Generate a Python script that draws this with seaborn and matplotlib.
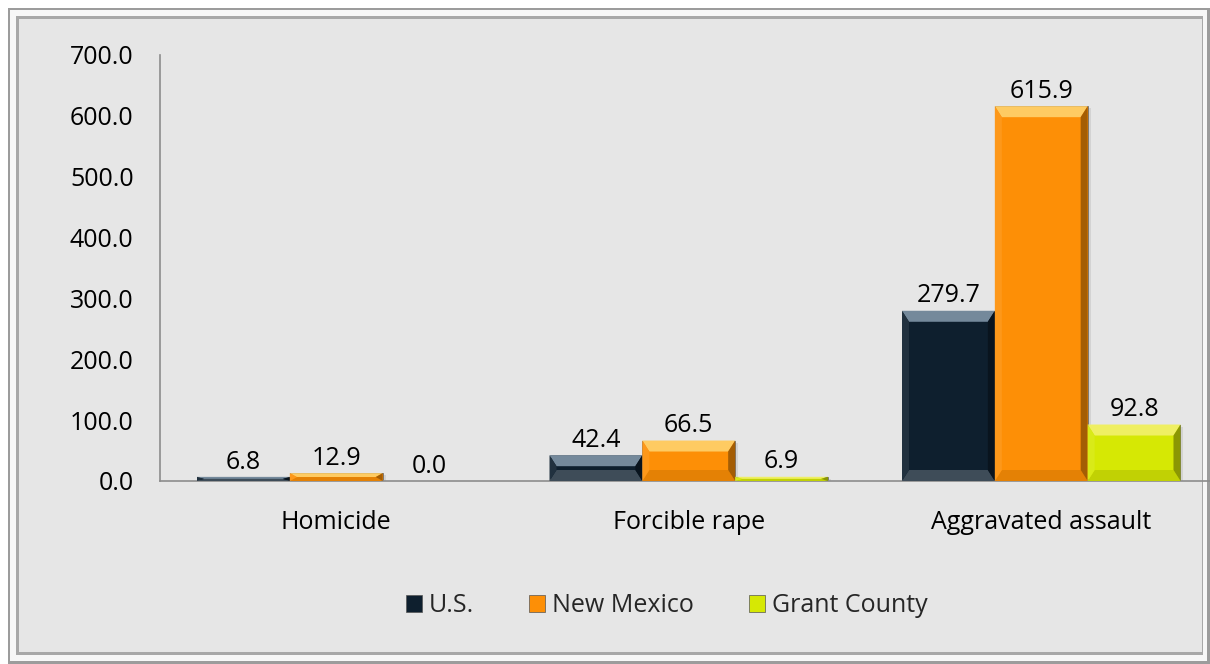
import matplotlib
matplotlib.use("Agg")
import matplotlib.pyplot as plt
from matplotlib.patches import Rectangle, Polygon
from matplotlib.colors import to_rgb
import numpy as np
import pandas as pd
import seaborn as sns

# Violent crime rates per 100,000 population
crimes = ["Homicide", "Forcible rape", "Aggravated assault"]
areas = ["U.S.", "New Mexico", "Grant County"]
us_rates = [6.8, 42.4, 279.7]
nm_rates = [12.9, 66.5, 615.9]
grant_rates = [0.0, 6.9, 92.8]
y_ticks = [0, 100, 200, 300, 400, 500, 600, 700]

colors = {"U.S.": "#0e1f2e", "New Mexico": "#fd8f06", "Grant County": "#d6e804"}

df = pd.DataFrame({
    "crime": crimes * 3,
    "area": [a for a in areas for _ in crimes],
    "rate": us_rates + nm_rates + grant_rates,
})

sns.set_theme(style="white")
plt.rcParams["font.family"] = ["Open Sans", "DejaVu Sans"]
FS = 18

W, H = 1210, 664
fig = plt.figure(figsize=(W / 100, H / 100), dpi=100, facecolor="white")

# Bevelled outer frame
def fig_rect(x0, y0, x1, y1, **kw):
    fig.patches.append(Rectangle((x0 / W, 1 - y1 / H), (x1 - x0) / W, (y1 - y0) / H,
                                 transform=fig.transFigure, zorder=-10, **kw))

fig_rect(8, 8, 1210, 664, facecolor="#9c9c9c", edgecolor="none")
fig_rect(10, 10, 1207, 661, facecolor="#f7f7f7", edgecolor="none")
fig_rect(16, 16, 1203, 655, facecolor="#a8a8a8", edgecolor="none")
fig_rect(19, 19, 1202, 652, facecolor="#e6e6e6", edgecolor="none")

left_px, right_px, top_px, bottom_px = 160, 1203, 55, 481
ax = fig.add_axes([left_px / W, 1 - bottom_px / H, (right_px - left_px) / W, (bottom_px - top_px) / H])
ax.set_facecolor("none")

sns.barplot(data=df, x="crime", y="rate", hue="area", hue_order=areas, order=crimes,
            palette=colors, width=0.79, ax=ax, legend=False, saturation=1,
            edgecolor="#6f6f6f", linewidth=0.6, errorbar=None, zorder=2)

group_w = 352.5
x_hi = (right_px - left_px) / group_w - 0.5
ax.set_xlim(-0.5, x_hi)
ax.set_ylim(0, 700)
ax.set_yticks(y_ticks)
ax.set_yticklabels([f"{v:.1f}" for v in y_ticks], fontsize=FS, color="black")
ax.tick_params(axis="y", length=0, pad=19)
ax.tick_params(axis="x", length=0, pad=21, labelsize=FS, labelcolor="black")
ax.set_xlabel("")
ax.set_ylabel("")
for s in ["top", "right"]:
    ax.spines[s].set_visible(False)
for s in ["left", "bottom"]:
    ax.spines[s].set_color("#8c8c8c")
    ax.spines[s].set_linewidth(1.2)
ax.spines["bottom"].set_bounds(-0.5, x_hi + 0.1)


def mix(c, other, t):
    c = np.array(to_rgb(c)); o = np.array(to_rgb(other))
    return tuple(c * (1 - t) + o * t)

# Bevel shading on each bar
px_x = (x_hi + 0.5) / (right_px - left_px)
px_y = 700 / (bottom_px - top_px)
for p in list(ax.patches):
    x0, y0 = p.get_x(), p.get_y()
    w, h = p.get_width(), p.get_height()
    if h <= 0:
        continue
    base = p.get_facecolor()[:3]
    bev_h_px = min(11, (h / px_y) / 2)
    bx, by = 7 * px_x, bev_h_px * px_y
    x1, y1 = x0 + w, y0 + h
    A, B, C, D = (x0, y0), (x1, y0), (x1, y1), (x0, y1)
    a, b, c, d = (x0 + bx, y0 + by), (x1 - bx, y0 + by), (x1 - bx, y1 - by), (x0 + bx, y1 - by)
    dark = base[0] < 0.5
    faces = [
        ([D, C, c, d], mix(base, "#b8d0e4" if dark else "#fff3a0", 0.6)),
        ([A, B, b, a], mix(base, "#ffffff", 0.2) if dark else mix(base, "#000000", 0.1)),
        ([A, a, d, D], mix(base, "#ffffff", 0.08)),
        ([B, C, c, b], mix(base, "#000000", 0.35)),
    ]
    for pts, col in faces:
        ax.add_patch(Polygon(pts, closed=True, facecolor=col, edgecolor="none", zorder=3))
    # soft shadow to the lower right
    ax.add_patch(Rectangle((x0 + 3 * px_x, y0 - 2 * px_y), w, h, facecolor="#000000",
                           alpha=0.08, edgecolor="none", zorder=1))

# Value labels
n = len(areas)
bar_w = 0.79 / n
for j, area in enumerate(areas):
    vals = df[df["area"] == area]["rate"].tolist()
    for i, v in enumerate(vals):
        xc = i - 0.79 / 2 + bar_w * (j + 0.5)
        ax.annotate(f"{v:.1f}", (xc, v), xytext=(0, 6), textcoords="offset points",
                    ha="center", va="baseline", fontsize=FS, color="black")

# Legend
handles = [Rectangle((0, 0), 1, 1, facecolor=colors[a], edgecolor="#555555", linewidth=0.5)
           for a in areas]
fig.legend(handles, areas, loc="center", bbox_to_anchor=(667 / W, 1 - 606 / H), ncol=3,
           frameon=False, fontsize=FS, handlelength=0.64, handleheight=0.64,
           handletextpad=0.28, columnspacing=2.2)

fig.savefig("out.png", dpi=100, facecolor="white")
